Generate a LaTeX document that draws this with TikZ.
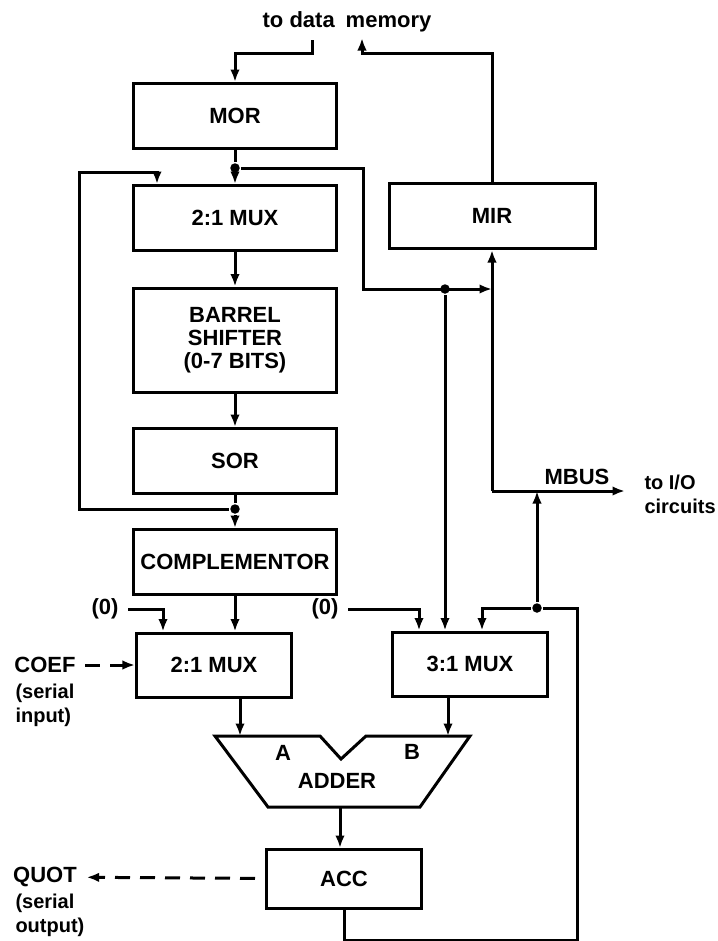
\documentclass[tikz,border=0pt]{standalone}
\usepackage{fontspec}
\setmainfont{Liberation Sans}
\usetikzlibrary{arrows.meta}

\begin{document}
\begin{tikzpicture}
[
	x=0.4pt, y=-0.4pt,
	line width=1.2pt,
	>={Latex[length=5pt,width=3.8pt]},
	font=\fontsize{8.8}{10.5}\selectfont\bfseries,
	wide/.style={draw,line width=1.2pt,minimum width=81pt,minimum height=26pt,inner sep=0pt},
	narrow/.style={draw,line width=1.2pt,minimum width=62pt,minimum height=25.6pt,inner sep=0pt},
	jdot/.style={circle,fill,inner sep=0pt,minimum size=3.8pt},
	note/.style={font=\fontsize{8}{9.6}\selectfont\bfseries,inner sep=0pt},
	serial/.style={dash pattern=on 6pt off 4pt}
]

	\useasboundingbox (0,0) rectangle (718,941);

	% left column
	\node[wide] (mor) at (235,116) {MOR};
	\node[wide] (muxa) at (235,218) {2:1 MUX};
	\node[wide,minimum height=41.6pt,align=center,font=\fontsize{8.8}{9.2}\selectfont\bfseries] (shift) at (235,340) {BARREL\\SHIFTER\\(0-7 BITS)};
	\node[wide] (sor) at (235,461) {SOR};
	\node[wide] (comp) at (235,562) {COMPLEMENTOR};

	% right column
	\node[wide,minimum width=82.4pt] (mir) at (492,216) {MIR};
	\node[narrow] (muxb) at (214,665) {2:1 MUX};
	\node[narrow] (muxc) at (470,664) {3:1 MUX};
	\node[narrow,minimum height=23.6pt] (acc) at (344,879) {ACC};

	% junctions
	\node[jdot] (dmor) at (235,168) {};
	\node[jdot] (dsor) at (235,509) {};
	\node[jdot] (dmir) at (445,289) {};
	\node[jdot] (dacc) at (537,608) {};

	% labels
	\node[note,font=\fontsize{8.8}{10.5}\selectfont\bfseries] (tdm) at (347,22) {to data\hspace{0.5em}memory};
	\coordinate (memout) at (312,40);
	\coordinate (memin) at (362,38);
	\node (mbus) at (577,477) {MBUS};
	\node[note,align=left,anchor=west] (io) at (643,494) {to I/O\\circuits};
	\node (zeroa) at (105,609) {(0)};
	\node (zerob) at (325,609) {(0)};
	\node (coef) at (45,665) {COEF};
	\node[note,align=left,anchor=west] (coefnote) at (14,705) {(serial\\input)};
	\node (quot) at (45,877) {QUOT};
	\node[note,align=left,anchor=west] (quotnote) at (14,915) {(serial\\output)};

	% adder
	\draw (215,736) -- (320,736) -- (341,759) -- (366,736) -- (470,736) -- (420,807) -- (268,807) -- cycle;
	\node (adder) at (337,781) {ADDER};
	\node (ina) at (283,753) {A};
	\node (inb) at (412,752) {B};
	\coordinate (adA) at (240,736);
	\coordinate (adB) at (448,736);
	\coordinate (adout) at (340,807);

	% memory in and out
	\draw[->] (memout) -- ++(0,13) -| (mor.north);
	\draw[->] (mir.north) |- (362,53) -- (memin);

	% shifter path
	\draw (mor) -- (dmor);
	\draw[->] (dmor) -- (muxa);
	\draw[->] (muxa) -- (shift);
	\draw[->] (shift) -- (sor);
	\draw (sor) -- (dsor);
	\draw[->] (dsor) -- (comp);
	\draw[->] (dsor) -| (79,172) -| ([xshift=-31.2pt]muxa.north);

	% MBUS
	\coordinate (busa) at (492,289);
	\coordinate (bus) at (492,491);
	\coordinate (busend) at (625,491);
	\draw[->] (dmor) -| (363,289) -- (busa);
	\draw[->] (bus) -- (mir.south);
	\draw[->] (bus) -- (busend);

	% multiplexer inputs
	\draw[->] (zeroa) -| ([xshift=-20.4pt]muxb.north);
	\draw[->] (comp.south) -- (comp.south |- muxb.north);
	\draw[serial,->] (coef) -- (muxb);
	\draw[->] (zerob) -| ([xshift=-20.4pt]muxc.north);
	\draw[->] (dmir) -- (dmir |- muxc.north);

	% adder and accumulator
	\draw[->] (muxb.south -| adA) -- (adA);
	\draw[->] (muxc.south -| adB) -- (adB);
	\draw[->] (adout) -- (acc.north -| adout);
	\draw[serial,->,shorten <=4pt] (acc) -- (quot);
	\draw[->] (acc.south) -- ++(0,30) -| (577,608) -- (dacc) -| ([xshift=4.8pt]muxc.north);
	\draw[->] (dacc) -- (dacc |- bus);

\end{tikzpicture}
\end{document}
